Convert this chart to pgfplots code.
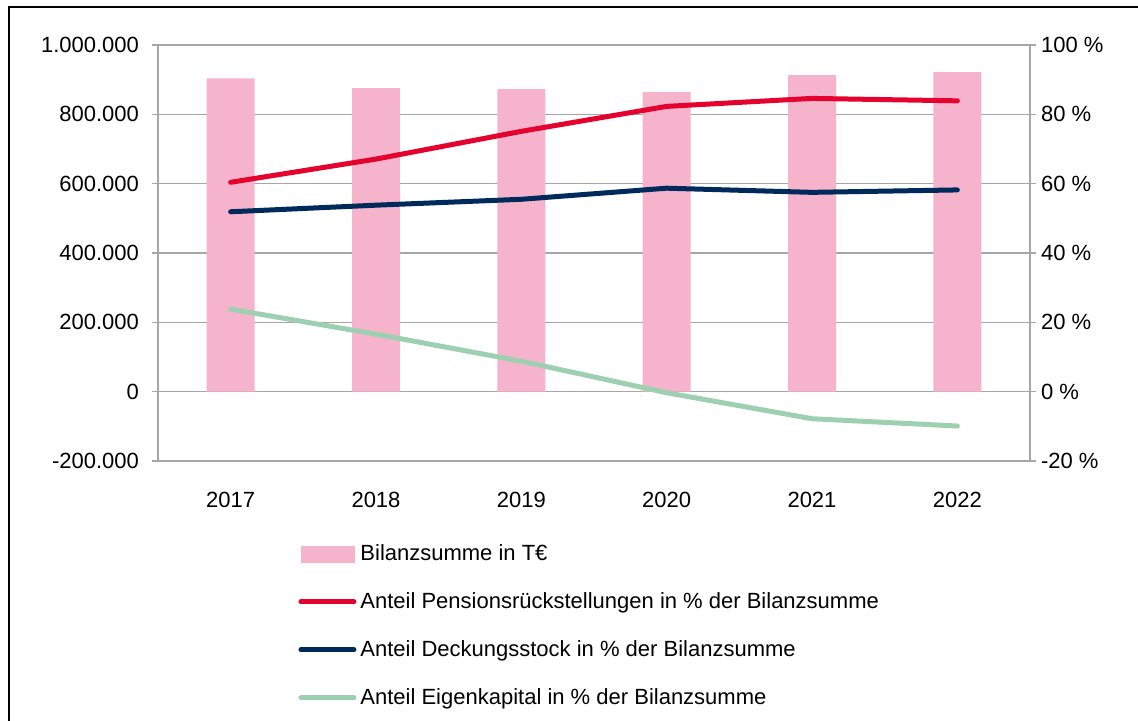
\documentclass[border=0pt]{standalone}
\usepackage{fontspec}
\setmainfont{Liberation Sans}
\usepackage{pgfplots}
\pgfplotsset{compat=1.18}
\definecolor{barpink}{HTML}{F5B3CC}
\definecolor{lred}{HTML}{E4032E}
\definecolor{lnavy}{HTML}{002A5C}
\definecolor{lgreen}{HTML}{9DD0B1}
\definecolor{gridgray}{HTML}{A6A6A6}
\begin{document}
\begin{tikzpicture}
\useasboundingbox (0,0) rectangle (569pt,-360pt);
\draw[black, line width=1pt] (4.5pt,-362pt) -- (4.5pt,-3.5pt) -- (571pt,-3.5pt);
\begin{axis}[
  at={(79pt,-230.5pt)}, anchor=south west,
  scale only axis, width=436pt, height=208pt,
  xmin=-0.5, xmax=5.5, ymin=-200000, ymax=1000000,
  scaled y ticks=false,
  xtick={0,1,2,3,4,5}, xticklabels={2017,2018,2019,2020,2021,2022},
  ytick={-200000,0,200000,400000,600000,800000,1000000},
  yticklabels={-200.000,0,200.000,400.000,600.000,800.000,1.000.000},
  axis lines*=left,
  axis line style={gridgray, line width=0.8pt},
  ymajorgrids, grid style={gridgray, line width=0.8pt},
  xtick style={draw=none},
  ytick style={gridgray, line width=0.8pt},
  tick align=outside, major tick length=3pt,
  tick label style={font=\fontsize{11}{13}\selectfont, text=black},
  xticklabel style={yshift=-9pt},
  yticklabel style={xshift=-3pt},
]
\addplot[ybar, bar width=24pt, fill=barpink, draw=none] coordinates {
(0,903800) (1,876000) (2,873100) (3,864400) (4,913500) (5,922100)};
\end{axis}
\begin{axis}[
  at={(79pt,-230.5pt)}, anchor=south west,
  scale only axis, width=436pt, height=208pt,
  xmin=-0.5, xmax=5.5, ymin=-20, ymax=100,
  axis y line*=right, axis x line=none,
  xtick=\empty,
  ytick={-20,0,20,40,60,80,100},
  yticklabels={-20 \%,0 \%,20 \%,40 \%,60 \%,80 \%,100 \%},
  axis line style={gridgray, line width=0.8pt},
  ytick style={gridgray, line width=0.8pt},
  tick align=outside, major tick length=3pt,
  tick label style={font=\fontsize{11}{13}\selectfont, text=black},
  yticklabel style={xshift=-1pt},
  legend cell align=left,
  legend style={at={(0.1606,-0.19)}, anchor=north west, draw=none, fill=none,
    inner sep=0pt, row sep=10.5pt, font=\fontsize{11}{13}\selectfont},
  legend image code/.code={\draw[#1, line cap=round] (0.5pt,0pt) -- (27pt,0pt);},
]
\addlegendimage{legend image code/.code={\fill[barpink] (0.5pt,-4pt) rectangle (27pt,4pt);}}
\addlegendentry{Bilanzsumme in T€}
\addplot[lred, line width=2.5pt, line cap=round, line join=round] coordinates {
(0,60.4) (1,67.1) (2,75.1) (3,82.3) (4,84.6) (5,83.9)};
\addlegendentry{Anteil Pensionsrückstellungen in \% der Bilanzsumme}
\addplot[lnavy, line width=2.5pt, line cap=round, line join=round] coordinates {
(0,51.9) (1,53.8) (2,55.5) (3,58.7) (4,57.5) (5,58.2)};
\addlegendentry{Anteil Deckungsstock in \% der Bilanzsumme}
\addplot[lgreen, line width=2.5pt, line cap=round, line join=round] coordinates {
(0,23.8) (1,16.6) (2,8.8) (3,-0.3) (4,-7.8) (5,-9.9)};
\addlegendentry{Anteil Eigenkapital in \% der Bilanzsumme}
\end{axis}
\end{tikzpicture}
\end{document}
